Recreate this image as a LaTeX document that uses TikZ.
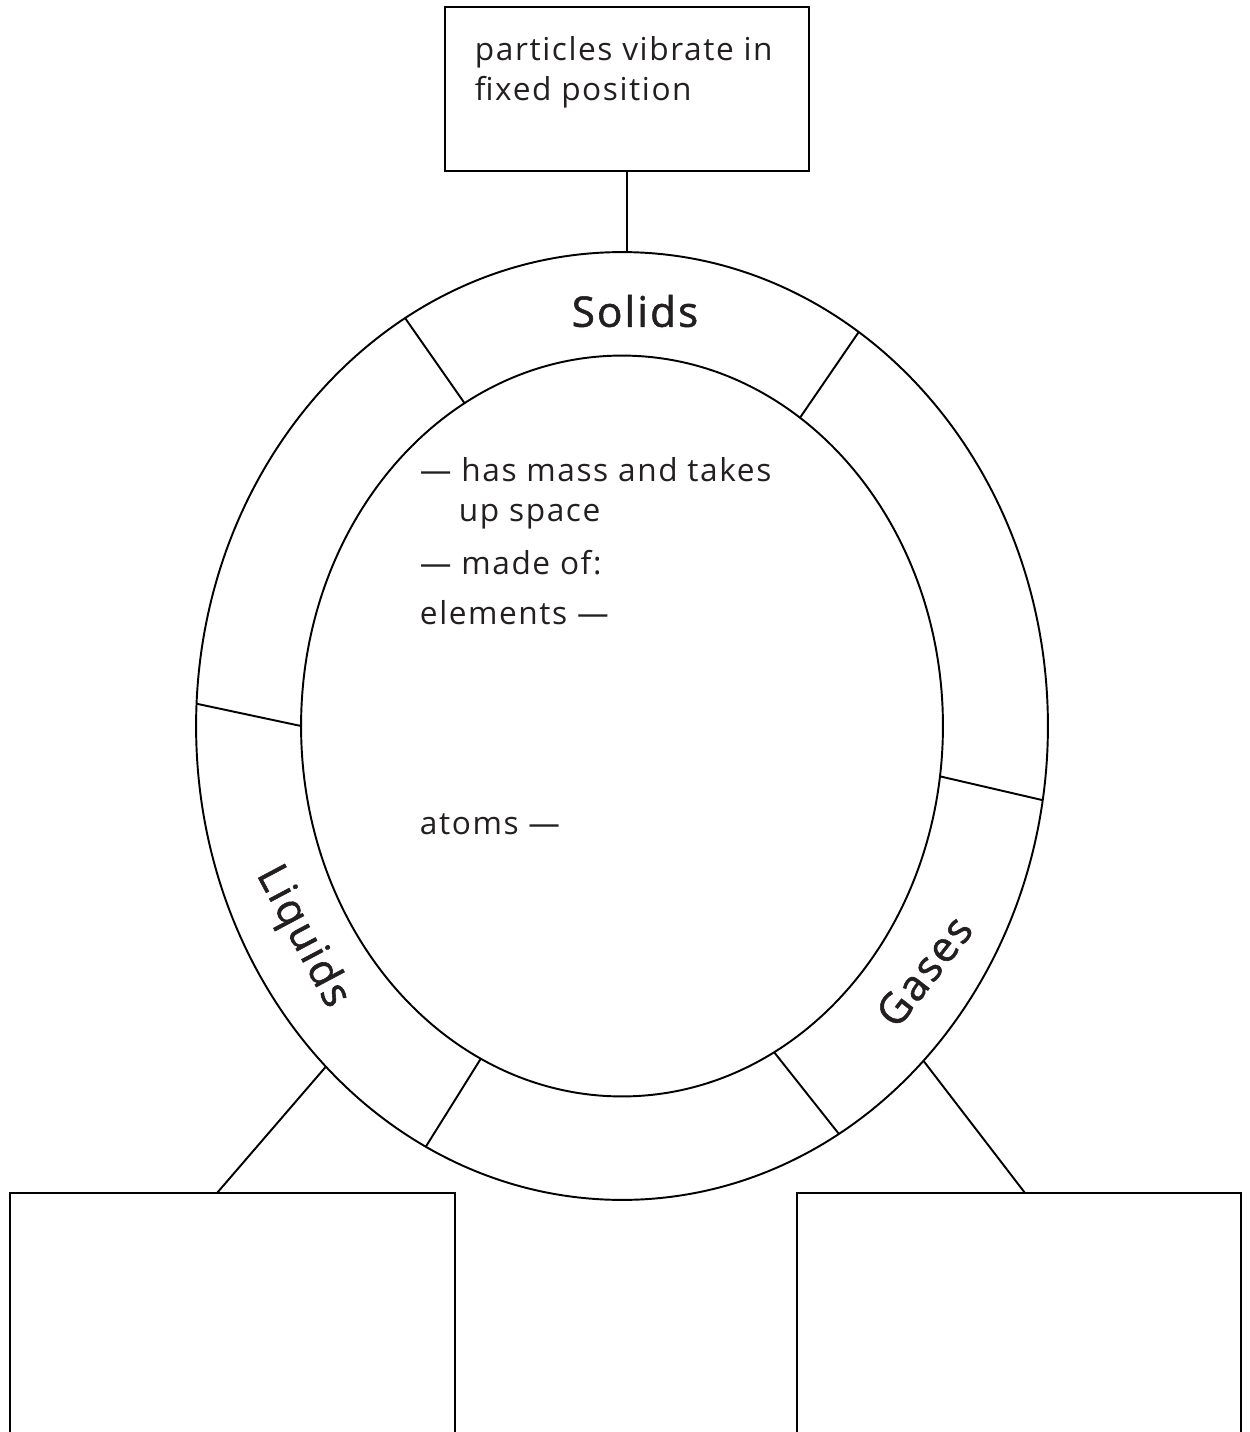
\documentclass[tikz,border=0pt]{standalone}
\usepackage{fontspec}
\setmainfont{Open Sans}[LetterSpace=5]
\newfontfamily\headfont{Open Sans}[FakeBold=1.3,LetterSpace=5]
\usetikzlibrary{shapes.geometric}
\usetikzlibrary{calc}
\definecolor{ink}{HTML}{231F20}

\begin{document}
\begin{tikzpicture}[x=0.02cm,y=-0.02cm,line width=1.1pt]
\tikzstyle{box}=[draw, rectangle, inner sep=0pt, outer sep=0pt]
\tikzstyle{ring}=[draw, ellipse, inner sep=0pt, outer sep=0pt]
\tikzstyle{txt}=[anchor=base west, inner sep=0pt, text=ink, font=\fontsize{18}{22.7}\selectfont]
\tikzstyle{phase}=[inner sep=0pt, text=ink, font=\headfont\fontsize{24}{28}\selectfont]

\clip (0,0) rectangle (1249,1432);

% the two rings
\node (outer) at (622,726) [ring, minimum width=17.04cm, minimum height=18.96cm] {};
\node (inner) at (622,726) [ring, minimum width=12.84cm, minimum height=14.82cm] {};

\draw (outer.118.7) -- (inner.116.3);
\draw (outer.59.6) -- (inner.60.5);
\draw (outer.350.6) -- (inner.351.3);
\draw (outer.177) -- (inner.180.2);
\draw (outer.245) -- (inner.247.8);
\draw (outer.298.7) -- (inner.295.6);

\node (solids) at (635,311) [phase] {Solids};
\node (liquids) at (302,937) [phase, rotate=-62] {Liquids};
\node (gases) at (924,971) [phase, rotate=52] {Gases};

% boxes
\node (topbox) at (627,89) [box, minimum width=7.28cm, minimum height=3.28cm] {};
\node (particles) at (474,61) [txt] {particles vibrate in};
\node (fixed) at (474,101) [txt] {fixed position};
\draw (topbox.south) -- (topbox.south |- outer.north);

\node (lbox) at (232.5,1343) [box, minimum width=8.9cm, minimum height=6cm] {};
\node (rbox) at (1019,1343) [box, minimum width=8.88cm, minimum height=6cm] {};
\coordinate (lfoot) at (217,1193);
\coordinate (rfoot) at (1025,1193);
\draw (outer.229.7) -- (lfoot);
\draw (outer.312.7) -- (rfoot);

% text in the middle
\node (mass) at (419,481) [txt] {\textemdash\ has mass and takes};
\node (space) at (458,521) [txt] {up space};
\node (made) at (419,574) [txt] {\textemdash\ made of:};
\node (elements) at (419,624) [txt] {elements \textemdash};
\node (atoms) at (419,834) [txt] {atoms \textemdash};

\end{tikzpicture}
\end{document}
